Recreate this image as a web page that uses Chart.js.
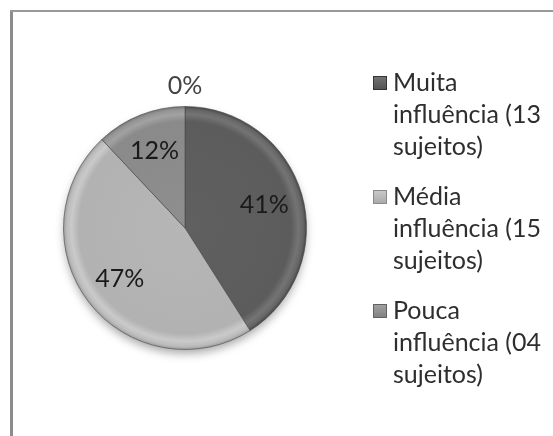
<!DOCTYPE html>
<html>
<head>
<meta charset="utf-8">
<title>Influência</title>
<script src="https://cdn.jsdelivr.net/npm/chart.js@4/dist/chart.umd.min.js"></script>
<style>
  html, body { margin: 0; padding: 0; background: #fff; }
  #wrap { width: 553px; height: 436px; }
</style>
</head>
<body>
<div id="wrap"><canvas id="pie"></canvas></div>
<script>
const categories = ['Muita influência (13 sujeitos)', 'Média influência (15 sujeitos)', 'Pouca influência (04 sujeitos)', '']
const percents = [41, 47, 12, 0]
const sliceColors = [[92, 92, 92], [178, 178, 178], [138, 138, 138], [120, 120, 120]]

const FONT = 'Lato, "Open Sans", sans-serif'

function rgb(c, d) {
    const f = v => Math.max(0, Math.min(255, Math.round(v + d)))
    return 'rgb(' + f(c[0]) + ',' + f(c[1]) + ',' + f(c[2]) + ')'
}

// bevelled look: flat body, light band near the rim, darker outer edge
function sliceFill(c) {
    const base = sliceColors[c.dataIndex]
    const area = c.chart.chartArea
    if (!area) return rgb(base, 0)
    const cx = (area.left + area.right) / 2
    const cy = (area.top + area.bottom) / 2
    const r = Math.min(area.width, area.height) / 2
    const g = c.chart.ctx.createRadialGradient(cx, cy - 4, 0, cx, cy, r)
    g.addColorStop(0, rgb(base, 4))
    g.addColorStop(0.87, rgb(base, 0))
    g.addColorStop(0.93, rgb(base, 24))
    g.addColorStop(0.97, rgb(base, 10))
    g.addColorStop(1, rgb(base, -25))
    return g
}

const frame = {
    id: 'frame',
    beforeDraw(chart) {
        const ctx = chart.ctx
        ctx.save()
        ctx.fillStyle = '#fff'
        ctx.fillRect(0, 0, chart.width, chart.height)
        ctx.fillStyle = '#8c8c8c'
        ctx.fillRect(10, 10, 3, chart.height)
        ctx.fillStyle = '#999'
        ctx.fillRect(10, 10, chart.width, 2)
        ctx.restore()
    }
}

const shadow = {
    id: 'shadow',
    beforeDatasetsDraw(chart) {
        const arc = chart.getDatasetMeta(0).data[0]
        if (!arc) return
        const ctx = chart.ctx
        ctx.save()
        ctx.shadowColor = 'rgba(0,0,0,0.35)'
        ctx.shadowBlur = 10
        ctx.shadowOffsetY = 5
        ctx.fillStyle = '#999'
        ctx.beginPath()
        ctx.arc(arc.x, arc.y, arc.outerRadius - 1, 0, Math.PI * 2)
        ctx.fill()
        ctx.restore()
    }
}

// percentage text inside each slice, outside when the slice is empty
const pctLabels = {
    id: 'pctLabels',
    afterDatasetsDraw(chart) {
        const ctx = chart.ctx
        const meta = chart.getDatasetMeta(0)
        ctx.save()
        ctx.font = '25px ' + FONT
        ctx.textAlign = 'center'
        ctx.textBaseline = 'middle'
        meta.data.forEach((arc, i) => {
            const v = percents[i]
            const mid = (arc.startAngle + arc.endAngle) / 2
            const r = v === 0 ? arc.outerRadius + 21 : arc.outerRadius * 0.68
            ctx.fillStyle = v === 0 ? '#444' : '#1a1a1a'
            ctx.fillText(v + '%', arc.x + Math.cos(mid) * r, arc.y + Math.sin(mid) * r)
        })
        ctx.restore()
    }
}

function wrap(ctx, text, maxW) {
    const words = text.split(' ')
    const lines = []
    let line = ''
    words.forEach(w => {
        const t = line ? line + ' ' + w : w
        if (line && ctx.measureText(t).width > maxW) {
            lines.push(line)
            line = w
        } else {
            line = t
        }
    })
    if (line) lines.push(line)
    return lines
}

const sideLegend = {
    id: 'sideLegend',
    afterDraw(chart) {
        const ctx = chart.ctx
        const x = 373, lineH = 32, gap = 18
        let y = 83
        ctx.save()
        ctx.font = '25px ' + FONT
        ctx.textBaseline = 'middle'
        categories.forEach((name, i) => {
            if (!name) return
            const base = sliceColors[i]
            const g = ctx.createLinearGradient(0, y - 7, 0, y + 7)
            g.addColorStop(0, rgb(base, 25))
            g.addColorStop(1, rgb(base, -10))
            ctx.fillStyle = g
            ctx.fillRect(x, y - 7, 14, 14)
            ctx.strokeStyle = rgb(base, -40)
            ctx.lineWidth = 1
            ctx.strokeRect(x + 0.5, y - 6.5, 13, 13)
            ctx.fillStyle = '#2e2e2e'
            const lines = wrap(ctx, name, 150)
            lines.forEach((ln, k) => ctx.fillText(ln, x + 20, y + k * lineH))
            y += lines.length * lineH + gap
        })
        ctx.restore()
    }
}

new Chart(document.getElementById('pie'), {
    type: 'pie',
    data: {
        labels: categories,
        datasets: [{
            data: percents,
            backgroundColor: sliceFill,
            borderColor: 'rgba(70,70,70,0.6)',
            borderWidth: 1,
            hoverOffset: 0
        }]
    },
    options: {
        responsive: true,
        maintainAspectRatio: false,
        animation: false,
        layout: { padding: { left: 63, right: 246, top: 106, bottom: 86 } },
        plugins: {
            legend: { display: false },
            tooltip: { enabled: false }
        }
    },
    plugins: [frame, shadow, pctLabels, sideLegend]
})
</script>
</body>
</html>
